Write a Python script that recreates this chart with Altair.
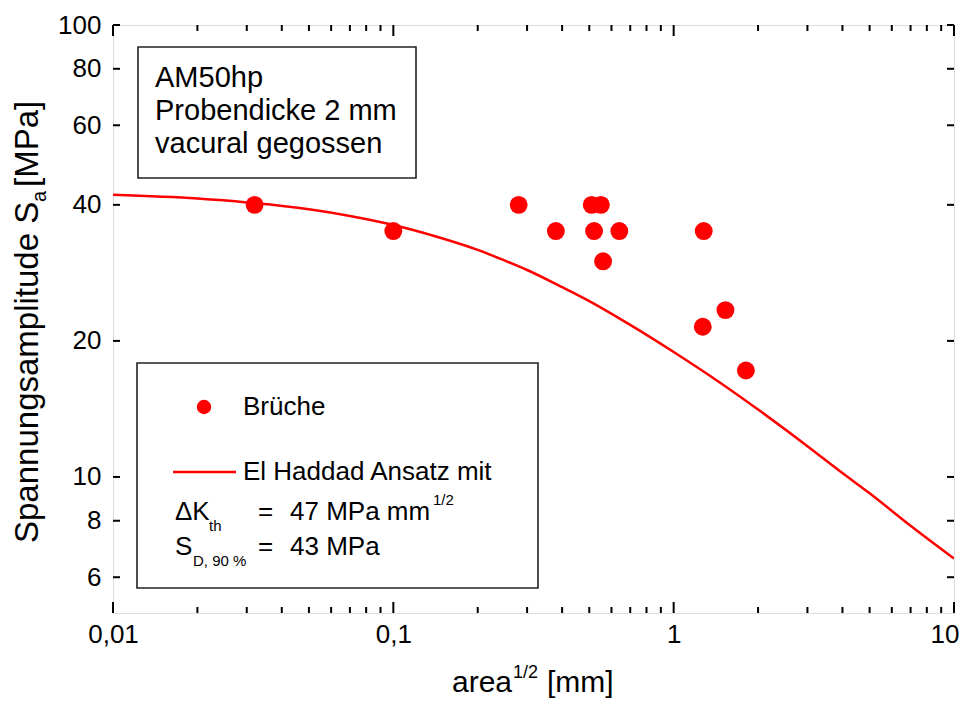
import altair as alt
import pandas as pd

FONT = "Liberation Sans"
RED = "#ff0000"

# ---- data ----
break_x = [0.032, 0.1, 0.28, 0.38, 0.51, 0.55, 0.52, 0.56, 0.64, 1.28, 1.27, 1.53, 1.81]
break_y = [40, 35, 40, 35, 40, 40, 35, 30, 35, 35, 21.5, 23.4, 17.2]

curve_x = [0.01, 0.02, 0.03, 0.05, 0.07, 0.1, 0.15, 0.2, 0.25, 0.3, 0.4, 0.5, 0.7, 1, 1.5, 2, 3, 4, 5, 7, 10]
curve_y = [42.1, 41.3, 40.5, 39.1, 37.8, 36.1, 33.7, 31.8, 30.1, 28.7, 26.3, 24.5, 21.7, 18.9, 16.0, 14.1, 11.7, 10.2, 9.2, 7.8, 6.6]

x_major = [0.01, 0.1, 1, 10]
x_minor = [0.02, 0.03, 0.04, 0.05, 0.06, 0.07, 0.08, 0.09,
           0.2, 0.3, 0.4, 0.5, 0.6, 0.7, 0.8, 0.9,
           2, 3, 4, 5, 6, 7, 8, 9]
y_ticks = [6, 8, 10, 20, 40, 60, 80, 100]

info_lines = ["AM50hp", "Probendicke 2 mm", "vacural gegossen"]
leg_points = "Brüche"
leg_curve = "El Haddad Ansatz mit"

W, H = 841, 588
OX, OY = 113, 25  # page position of plot origin

xs = alt.Scale(type="log", domain=[0.01, 10], nice=False)
ys = alt.Scale(type="log", domain=[5, 100], nice=False)

# last x label (10) sits at the page edge: drawn as right-aligned so it stays visible
xaxis = alt.Axis(values=x_major, ticks=False, domain=False, grid=False, title=None,
                 labelExpr="replace(format(datum.value, '~g'), '.', ',')",
                 labelAlign=alt.ExprRef(expr="datum.value >= 10 ? 'right' : 'center'"),
                 labelOffset=alt.ExprRef(expr="datum.value >= 10 ? 5 : 0"),
                 labelFont=FONT, labelFontSize=26, labelColor="black",
                 labelPadding=8, labelFlush=False, labelOverlap=False)
yaxis = alt.Axis(values=y_ticks, ticks=False, domain=False, grid=False, title=None,
                 format="~g", labelFont=FONT, labelFontSize=26, labelColor="black",
                 labelPadding=12, labelFlush=False, labelOverlap=False)

curve_df = pd.DataFrame({"x": curve_x, "y": curve_y})
pts_df = pd.DataFrame({"x": break_x, "y": break_y})

curve = alt.Chart(curve_df).mark_line(color=RED, strokeWidth=2.5, clip=True,
                                      interpolate="monotone").encode(
    x=alt.X("x:Q", scale=xs, axis=xaxis),
    y=alt.Y("y:Q", scale=ys, axis=yaxis),
)
points = alt.Chart(pts_df).mark_circle(color=RED, opacity=1, size=320).encode(
    x=alt.X("x:Q", scale=xs, axis=xaxis),
    y=alt.Y("y:Q", scale=ys, axis=yaxis),
)

def xticks(vals, length, where):
    df = pd.DataFrame({"x": vals})
    if where == "bottom":
        y1, y2 = H, H - length
    else:
        y1, y2 = 0, length
    return alt.Chart(df).mark_rule(color="black", strokeWidth=2).encode(
        x=alt.X("x:Q", scale=xs, axis=xaxis), y=alt.value(y1), y2=alt.value(y2))

def yticks(vals, length, where):
    df = pd.DataFrame({"y": vals})
    if where == "left":
        x1, x2 = 0, length
    else:
        x1, x2 = W, W - length
    return alt.Chart(df).mark_rule(color="black", strokeWidth=2).encode(
        y=alt.Y("y:Q", scale=ys, axis=yaxis), x=alt.value(x1), x2=alt.value(x2))

def txt(s, x, y, size, align="left", baseline="middle", angle=0):
    return alt.Chart(pd.DataFrame({"t": [s]})).mark_text(
        align=align, baseline=baseline, fontSize=size, font=FONT, color="black", angle=angle
    ).encode(x=alt.value(x - OX), y=alt.value(y - OY), text="t:N")

def box(x1, y1, x2, y2):
    return alt.Chart(pd.DataFrame({"t": [0]})).mark_rect(
        fill="white", stroke="#222222", strokeWidth=1.6
    ).encode(x=alt.value(x1 - OX), x2=alt.value(x2 - OX), y=alt.value(y1 - OY), y2=alt.value(y2 - OY))

layers = [
    box(138, 47, 416, 178),
    box(137, 363, 538, 588),
    curve,
    points,
    xticks(x_major, 11, "bottom"), xticks(x_minor, 6, "bottom"),
    xticks(x_major, 11, "top"), xticks(x_minor, 6, "top"),
    yticks(y_ticks, 7, "left"), yticks(y_ticks, 7, "right"),
]

# info box text
for line, base in zip(info_lines, [87, 120, 153]):
    layers.append(txt(line, 155, base, 29, baseline="alphabetic"))

# legend
leg_dot = alt.Chart(pd.DataFrame({"t": [0]})).mark_circle(color=RED, opacity=1, size=210).encode(
    x=alt.value(204 - OX), y=alt.value(407 - OY))
leg_line = alt.Chart(pd.DataFrame({"t": [0]})).mark_rule(color=RED, strokeWidth=2.5).encode(
    x=alt.value(173 - OX), x2=alt.value(236 - OX), y=alt.value(472 - OY))
layers += [leg_dot, leg_line,
           txt(leg_points, 243, 407, 26),
           txt(leg_curve, 243, 472, 26),
           txt("ΔK", 175, 512, 26), txt("th", 209, 526, 15),
           txt("=", 258, 512, 26), txt("47 MPa mm", 290, 512, 26), txt("1/2", 433, 500, 15),
           txt("S", 175, 547, 26), txt("D, 90 %", 193, 561, 15),
           txt("=", 258, 547, 26), txt("43 MPa", 290, 547, 26)]

# axis titles
layers += [txt("area", 452, 692, 30, baseline="alphabetic"),
           txt("1/2", 513, 678, 18, baseline="alphabetic"),
           txt("[mm]", 547, 692, 30, baseline="alphabetic")]
layers += [txt("Spannungsamplitude S", 38, 543, 33, baseline="alphabetic", angle=270),
           txt("a", 46, 202, 20, baseline="alphabetic", angle=270),
           txt("[MPa]", 38, 187, 33, baseline="alphabetic", angle=270)]

chart = alt.layer(*layers).properties(
    width=W, height=H,
    autosize=alt.AutoSizeParams(type="none"),
    padding={"left": OX - 8, "top": OY - 8, "right": 6, "bottom": 86},
).configure_view(stroke="black", strokeWidth=2).configure(background="white")

chart.save("out.html", embed_options={"renderer": "svg", "actions": False})
